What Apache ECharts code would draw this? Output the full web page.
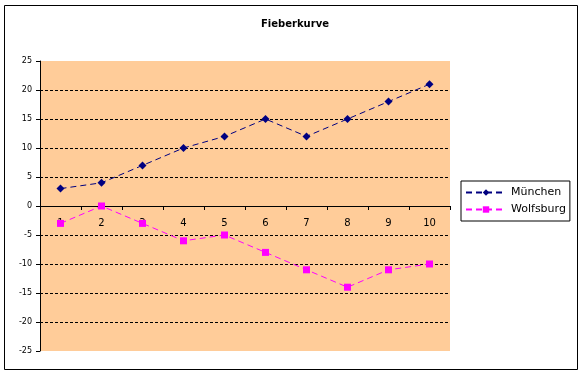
<!DOCTYPE html>
<html>
<head>
<meta charset="utf-8">
<script src="https://cdn.jsdelivr.net/npm/echarts@6/dist/echarts.min.js"></script>
<style>
  html, body { margin: 0; padding: 0; background: #fff; }
  #chart { width: 583px; height: 376px; }
</style>
</head>
<body>
<div id="chart"></div>
<script>
const categories = ['1', '2', '3', '4', '5', '6', '7', '8', '9', '10']
const muenchen = [3, 4, 7, 10, 12, 15, 12, 15, 18, 21]
const wolfsburg = [-3, 0, -3, -6, -5, -8, -11, -14, -11, -10]

const font = 'DejaVu Sans'

const chart = echarts.init(document.getElementById('chart'), null, { renderer: 'canvas' })
chart.setOption({
    animation: false,
    textStyle: { fontFamily: font },
    title: {
        text: 'Fieberkurve',
        left: 290,
        textAlign: 'center',
        top: 14,
        textStyle: { fontSize: 10, fontWeight: 'bold', color: '#000', fontFamily: font },
    },
    graphic: [{
        type: 'rect',
        shape: { x: 4.5, y: 5.5, width: 573, height: 364 },
        style: { fill: null, stroke: '#000', lineWidth: 1 },
        silent: true,
    }],
    legend: {
        orient: 'vertical',
        left: 461,
        top: 181,
        padding: [6, 4, 6, 4],
        itemGap: 6,
        itemWidth: 40,
        itemHeight: 8,
        borderColor: '#000',
        borderWidth: 1,
        textStyle: { fontSize: 11, color: '#000', fontFamily: font },
        data: ['München', 'Wolfsburg'],
    },
    grid: {
        left: 40,
        right: 133,
        top: 61,
        bottom: 25,
        show: true,
        backgroundColor: '#FFCC99',
        borderWidth: 0,
    },
    xAxis: {
        type: 'category',
        data: categories,
        boundaryGap: true,
        position: 'bottom',
        // x axis crosses at value 0 (half way up the plot)
        offset: -145,
        axisLine: { onZero: false, lineStyle: { color: '#000', width: 1 } },
        axisTick: { show: true, length: 4, lineStyle: { color: '#000' } },
        axisLabel: { color: '#000', fontSize: 10, margin: 12 },
        splitLine: { show: false },
    },
    yAxis: {
        type: 'value',
        min: -25,
        max: 25,
        interval: 5,
        axisLine: { show: true, lineStyle: { color: '#000', width: 1 } },
        axisTick: { show: true, length: 4, lineStyle: { color: '#000' } },
        axisLabel: { color: '#000', fontSize: 8, margin: 8 },
        splitLine: {
            show: true,
            showMinLine: false,
            showMaxLine: false,
            lineStyle: { color: '#000', type: [3, 2], width: 1 },
        },
    },
    series: [{
        name: 'München',
        type: 'line',
        data: muenchen,
        symbol: 'diamond',
        symbolSize: 8,
        color: '#000080',
        lineStyle: { color: '#000080', width: 1, type: [6, 4] },
        itemStyle: { color: '#000080' },
    }, {
        name: 'Wolfsburg',
        type: 'line',
        data: wolfsburg,
        symbol: 'rect',
        symbolSize: 7,
        color: '#FF00FF',
        lineStyle: { color: '#FF00FF', width: 1, type: [6, 4] },
        itemStyle: { color: '#FF00FF' },
    }],
})
</script>
</body>
</html>
